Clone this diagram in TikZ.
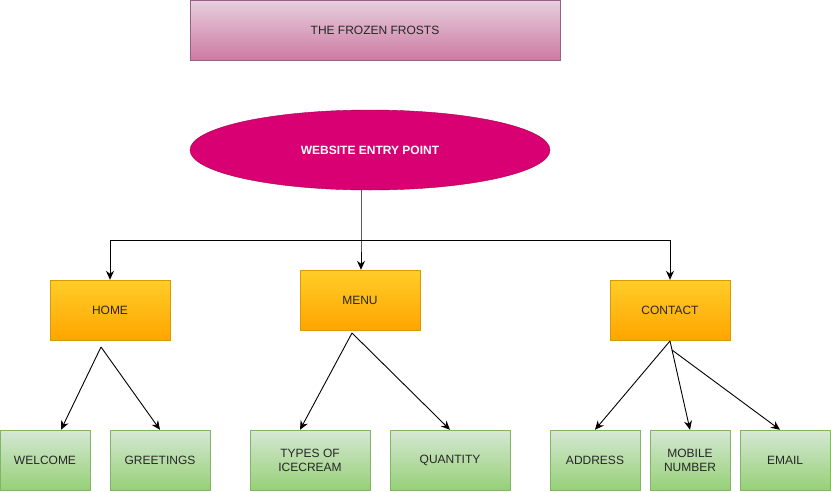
\documentclass[tikz,border=0pt]{standalone}
\usepackage{fontspec}
\setmainfont{Liberation Sans}
\usetikzlibrary{shapes.geometric,arrows.meta}
\definecolor{titletop}{HTML}{E6D0DE}
\definecolor{titlebot}{HTML}{CD7AA2}
\definecolor{titleline}{HTML}{996185}
\definecolor{entryfill}{HTML}{D80073}
\definecolor{entryline}{HTML}{A50040}
\definecolor{orgtop}{HTML}{FFCD28}
\definecolor{orgbot}{HTML}{FFA500}
\definecolor{orgline}{HTML}{D79B00}
\definecolor{grntop}{HTML}{D5E8D4}
\definecolor{grnbot}{HTML}{97D077}
\definecolor{grnline}{HTML}{82B366}
\tikzset{
  x=1pt,y=-1pt,
  every node/.style={font=\fontsize{12}{14}\selectfont, align=center, text=black!85},
  titlebox/.style={draw=titleline, top color=titletop, bottom color=titlebot, minimum width=370pt, minimum height=60pt, inner sep=0pt},
  entry/.style={ellipse, draw=entryline, fill=entryfill, minimum width=360pt, minimum height=80pt, inner sep=0pt, text=white, font=\fontsize{12}{14}\selectfont\bfseries},
  orgbox/.style={draw=orgline, top color=orgtop, bottom color=orgbot, minimum width=120pt, minimum height=60pt, inner sep=0pt},
  grnbox/.style={draw=grnline, top color=grntop, bottom color=grnbot, minimum height=60pt, inner sep=0pt},
  conn/.style={draw=black, line width=0.9pt, -{Stealth[length=9pt,width=8pt]}},
}
\begin{document}
\begin{tikzpicture}
\useasboundingbox (0,0) rectangle (831,491);
\node[titlebox] (title) at (375,30) {THE FROZEN FROSTS};
\node[entry] (entry) at (370,150) {WEBSITE ENTRY POINT};
\node[orgbox] (home) at (110,310) {HOME};
\node[orgbox] (menu) at (360,300) {MENU};
\node[orgbox] (contact) at (670,310) {CONTACT};
\node[grnbox, minimum width=90pt] (welcome) at (45,460) {WELCOME};
\node[grnbox, minimum width=100pt] (greet) at (160,460) {GREETINGS};
\node[grnbox, minimum width=120pt] (types) at (310,460) {TYPES OF\\ICECREAM};
\node[grnbox, minimum width=120pt] (qty) at (450,460) {QUANTITY};
\node[grnbox, minimum width=90pt] (addr) at (595,460) {ADDRESS};
\node[grnbox, minimum width=80pt] (mobile) at (690,460) {MOBILE\\NUMBER};
\node[grnbox, minimum width=90pt] (email) at (785,460) {EMAIL};
\coordinate (split) at (361,240);
\coordinate (hs) at (101,347);
\coordinate (ms) at (352,333);
\coordinate (cs) at (670,341);
\coordinate (cs2) at (672,350);
\draw[conn] (entry.south -| split) -- (split) -- (menu.north -| split);
\draw[conn] (split) -- (split -| home) -- (home.north);
\draw[conn] (split) -- (split -| contact) -- (contact.north);
\draw[conn] (hs) -- (welcome.north -| 61,0);
\draw[conn] (hs) -- (greet.north);
\draw[conn] (ms) -- (types.north -| 300,0);
\draw[conn] (ms) -- (qty.north);
\draw[conn] (cs) -- (addr.north);
\draw[conn] (cs) -- (mobile.north);
\draw[conn] (cs2) -- (email.north -| 780,0);
\end{tikzpicture}
\end{document}
